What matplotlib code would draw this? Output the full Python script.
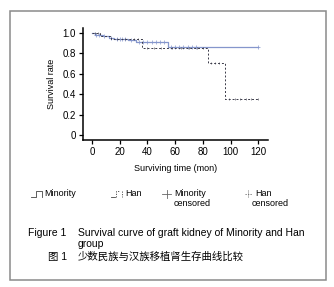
import matplotlib
matplotlib.use("Agg")
import matplotlib.pyplot as plt
from matplotlib.lines import Line2D
from matplotlib.patches import Rectangle

# Kaplan-Meier style steps
minority_t = [0, 2, 8, 12, 16, 26, 32, 55, 120]
minority_s = [1.0, 0.985, 0.97, 0.955, 0.945, 0.93, 0.91, 0.865, 0.865]
minority_cens = [3, 5, 9, 14, 18, 20, 22, 24, 28, 34, 37, 40, 43, 46, 49, 52,
                 57, 60, 63, 66, 69, 72, 75, 120]

han_t = [0, 6, 14, 36, 84, 96, 120]
han_s = [1.0, 0.975, 0.94, 0.85, 0.71, 0.35, 0.35]
han_cens = [2, 4, 18, 24, 30, 33, 40, 45, 50, 58, 64, 70, 76, 80,
            86, 89, 92, 99, 103, 107, 111, 115, 120]

xticks = [0, 20, 40, 60, 80, 100, 120]
yticks = [0, 0.2, 0.4, 0.6, 0.8, 1.0]
ytick_labels = ["0", "0.2", "0.4", "0.6", "0.8", "1.0"]

W, H = 334, 287
plt.rcParams['font.family'] = ['Liberation Sans', 'Noto Sans CJK SC', 'DejaVu Sans']

def px(x, y):
    return x / W, 1 - y / H

def step_val(ts, ss, t):
    v = ss[0]
    for ti, si in zip(ts, ss):
        if t >= ti:
            v = si
    return v

fig = plt.figure(figsize=(W / 100, H / 100), dpi=100)
ax = fig.add_axes([83 / W, 1 - 140 / H, (268 - 83) / W, (140 - 28) / H])

blue = "#8596cc"
dark = "#3a3a48"

ax.step(minority_t, minority_s, where="post", color=blue, lw=0.9)
ax.plot(minority_cens, [step_val(minority_t, minority_s, t) for t in minority_cens],
        ls="none", marker="+", ms=2.5, mew=0.5, color=blue)

ax.step(han_t, han_s, where="post", color=dark, lw=0.7, ls=(0, (2, 2)))
ax.plot(han_cens, [step_val(han_t, han_s, t) for t in han_cens],
        ls="none", marker="|", ms=2, mew=0.4, color=dark)

ax.set_xlim(-6.5, 127)
ax.set_ylim(-0.049, 1.049)
ax.set_xticks(xticks)
ax.set_yticks(yticks)
ax.set_yticklabels(ytick_labels)
for s in ["top", "right"]:
    ax.spines[s].set_visible(False)
for s in ["left", "bottom"]:
    ax.spines[s].set_linewidth(1.1)
ax.tick_params(length=3, width=0.9, labelsize=7, pad=2)
ax.set_ylabel("Survival rate", fontsize=6.5, labelpad=5)
ax.set_xlabel("Surviving time (mon)", fontsize=6.5, labelpad=5)

# outer frame
x0, y0 = px(10, 280)
x1, y1 = px(326, 11)
fig.add_artist(Rectangle((x0, y0), x1 - x0, y1 - y0, transform=fig.transFigure,
                         fill=False, edgecolor="#8a8a8a", lw=1.1))

# legend row
def fline(xs, ys, **kw):
    fx = [x / W for x in xs]
    fy = [1 - y / H for y in ys]
    fig.add_artist(Line2D(fx, fy, transform=fig.transFigure, **kw))

ly = 194
fline([31, 36, 36, 42, 42], [ly + 3, ly + 3, ly - 3, ly - 3, ly + 3], color="#444", lw=0.6)
fig.text(*px(44, ly), "Minority", fontsize=6.5, va="center")
fline([111, 115], [ly + 3, ly + 3], color="#444", lw=0.6)
fline([116, 116, 120], [ly + 3, ly - 3, ly - 3], color="#444", lw=0.6, ls=(0, (1.5, 1.5)))
fline([122, 122], [ly - 3, ly + 3], color="#444", lw=0.6, ls=(0, (1.5, 1.5)))
fig.text(*px(125, ly), "Han", fontsize=6.5, va="center")
fline([162, 171], [ly, ly], color="#666", lw=0.6)
fline([166.5, 166.5], [ly - 4, ly + 4], color="#666", lw=0.6)
fig.text(*px(174, ly), "Minority", fontsize=6.5, va="center")
fig.text(*px(174, ly + 10), "censored", fontsize=6.5, va="center")
fline([245, 252], [ly, ly], color="#666", lw=0.6, ls=(0, (1.5, 1.5)))
fline([248.5, 248.5], [ly - 4, ly + 4], color="#666", lw=0.6, ls=(0, (1.2, 1.2)))
fig.text(*px(255, ly), "Han", fontsize=6.5, va="center")
fig.text(*px(252, ly + 10), "censored", fontsize=6.5, va="center")

# caption
fig.text(*px(28, 233), "Figure 1", fontsize=7.5, va="center")
fig.text(*px(78, 233), "Survival curve of graft kidney of Minority and Han",
         fontsize=7.5, va="center")
fig.text(*px(78, 244), "group", fontsize=7.5, va="center")
fig.text(*px(48, 257), "图 1", fontsize=7.5, va="center")
fig.text(*px(78, 257), "少数民族与汉族移植肾生存曲线比较", fontsize=7.5, va="center")

fig.savefig("out.png", dpi=100)
